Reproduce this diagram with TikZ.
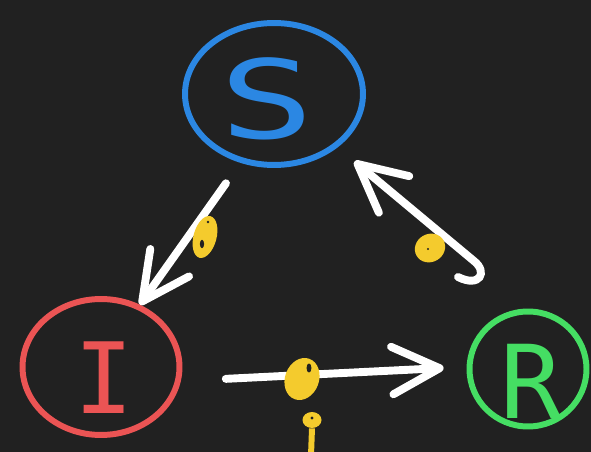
\documentclass[tikz,border=0pt]{standalone}
\usepackage{fontspec}
\setmonofont{DejaVu Sans Mono}
\usepackage{tikz}
\usetikzlibrary{arrows.meta, shapes.geometric}
\definecolor{fondo}{HTML}{212121}
\definecolor{azulS}{HTML}{2B87E3}
\definecolor{rojoI}{HTML}{EB5454}
\definecolor{verdeR}{HTML}{45DE63}
\definecolor{amarillo}{HTML}{F4CB2D}

\begin{document}
\begin{tikzpicture}[
    x=0.02cm, y=-0.02cm,
    estado/.style={ellipse, draw, line width=3.4pt, inner sep=0pt},
    letra/.style={font=\ttfamily\fontsize{62}{62}\selectfont, inner sep=0pt},
    flecha/.style={-{Straight Barb[round, length=0.95cm, width=0.95cm]}, white, line width=4.5pt, line cap=round},
    marca/.style={ellipse, fill=amarillo, inner sep=0pt}
]
    \fill[fondo] (0,0) rectangle (591,452);
    \useasboundingbox (0,0) rectangle (591,452);

    % estados
    \node[estado, draw=azulS, minimum width=3.56cm, minimum height=2.84cm] (S) at (274,94) {};
    \node[estado, draw=rojoI, minimum width=3.14cm, minimum height=2.72cm] (I) at (101,367) {};
    \node[estado, draw=verdeR, minimum width=2.34cm, minimum height=2.3cm] (R) at (528,369) {};
    \node[letra, text=azulS] (letraS) at (267,99) {\scalebox{1.45}[1]{S}};
    \node[letra, text=rojoI, font=\ttfamily\fontsize{56}{56}\selectfont] (letraI) at (104,378) {I};
    \node[letra, text=verdeR, font=\ttfamily\fontsize{58}{58}\selectfont] (letraR) at (531,381) {R};

    % transiciones
    \draw[flecha, shorten <=0.5cm] (S.244) -- (I.58);
    \draw[flecha, shorten <=0.9cm, shorten >=0.46cm] (I.-10) -- (R.178);
    \coordinate (rizo) at (458,277);
    \draw[flecha, shorten >=0.44cm] (rizo) .. controls (480,288) and (488,272) .. (474,261) -- (S.-40);

    % marcas amarillas sobre las flechas
    \node[marca, minimum width=0.46cm, minimum height=0.86cm, rotate=-15] (beta) at (205,237) {};
    \fill[fondo] (202,244) ellipse (1.2pt and 2.4pt);
    \fill[fondo] (208,222) circle (0.8pt);
    \node[marca, minimum width=0.62cm, minimum height=0.56cm, rotate=30] (nu) at (430,248) {};
    \fill[fondo] (428,249) circle (0.7pt);
    \node[marca, minimum width=0.68cm, minimum height=0.86cm, rotate=-20] (gamma) at (302,379) {};
    \fill[fondo] (309,368) ellipse (1.4pt and 2.6pt);
    \node[marca, minimum width=0.38cm, minimum height=0.32cm] (punto) at (312,420) {};
    \fill[fondo] (312,418) circle (0.9pt);
    \draw[amarillo, line width=3.4pt] (punto.south) -- ++(-1,27);
\end{tikzpicture}
\end{document}
